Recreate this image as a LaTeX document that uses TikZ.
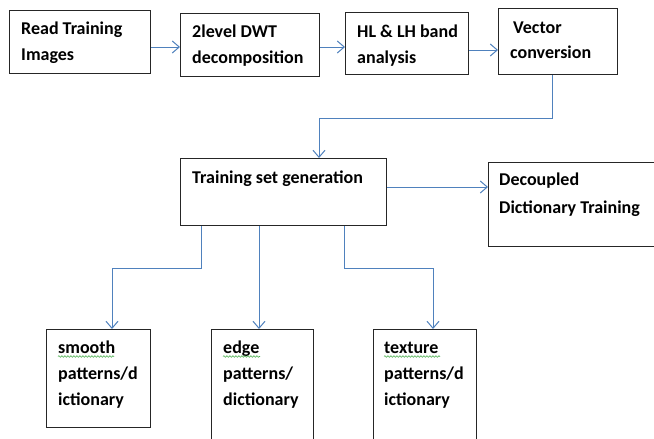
\documentclass[tikz,border=0pt]{standalone}
\usepackage{fontspec}
\setmainfont{Carlito}
\usetikzlibrary{arrows.meta,decorations.pathmorphing}
\definecolor{arrowblue}{HTML}{4F81BD}
\definecolor{spellgreen}{HTML}{4CAF50}
\tikzset{
  box/.style={draw=black!85, line width=1.3pt, anchor=north west, inner sep=0pt},
  lbl/.style={anchor=base west, inner sep=0pt, align=left,
    font=\fontsize{18}{26}\selectfont\bfseries},
  arr/.style={draw=arrowblue, line width=1pt,
    -{Straight Barb[length=7pt,width=12pt,line width=1pt]}},
  squiggle/.style={draw=spellgreen, line width=0.6pt,
    decorate, decoration={snake, amplitude=0.8pt, segment length=3pt}}
}
\begin{document}
\begin{tikzpicture}[x=1pt,y=-1pt]
\useasboundingbox (0,0) rectangle (654,439);
\clip (0,0) rectangle (654,439);
\fill[white] (0,0) rectangle (654,439);
% boxes
\node[box, minimum width=141pt, minimum height=63pt] (b1) at (9,10) {};
\node[box, minimum width=139pt, minimum height=63pt] (b2) at (180,13) {};
\node[box, minimum width=123pt, minimum height=62pt] (b3) at (345,12) {};
\node[box, minimum width=119pt, minimum height=66pt] (b4) at (498,8) {};
\node[box, minimum width=206pt, minimum height=67pt] (b5) at (180,158) {};
\node[box, minimum width=190pt, minimum height=84pt] (b6) at (488,162) {};
\node[box, minimum width=104pt, minimum height=98pt] (s1) at (46,329) {};
\node[box, minimum width=102pt, minimum height=130pt] (s2) at (211,329) {};
\node[box, minimum width=103pt, minimum height=130pt] (s3) at (373,329) {};
% labels (anchored at the baseline of their last line)
\node[lbl] (t1) at (21,60) {Read Training\\Images};
\node[lbl] (t2) at (192,63) {2level DWT\\decomposition};
\node[lbl] (t3) at (357,63) {HL \& LH band\\analysis};
\node[lbl] (t4) at (510,58) {\hspace*{3pt}Vector\\[-1pt]conversion};
\node[lbl] (t5) at (192,183) {Training set generation};
\node[lbl] (t6) at (499,213) {Decoupled\\[2pt]Dictionary Training};
\node[lbl] (t7) at (58,405) {smooth\\patterns/d\\ictionary};
\node[lbl] (t8) at (223,405) {edge\\patterns/\\dictionary};
\node[lbl] (t9) at (384,405) {texture\\patterns/d\\ictionary};
% spell-check squiggles
\draw[squiggle] (58,356.5) -- (114,356.5);
\draw[squiggle] (223,356.5) -- (260,356.5);
\draw[squiggle] (384,356.5) -- (440,356.5);
% connectors
\draw[arr] (b1.east |- 0,47) -- (b2.west |- 0,47);
\draw[arr] (b2.east |- 0,47) -- (b3.west |- 0,47);
\draw[arr] (b3.east |- 0,50) -- (b4.west |- 0,50);
\draw[arr] (b4.south -| 552,0) |- (319,118) -- (b5.north -| 319,0);
\draw[arr] (b5.east |- 0,187) -- (b6.west |- 0,187);
\draw[arr] (b5.south -| 201,0) |- (112,268) -- (s1.north -| 112,0);
\draw[arr] (b5.south -| 259,0) -- (s2.north -| 259,0);
\draw[arr] (b5.south -| 344,0) |- (433,268) -- (s3.north -| 433,0);
\end{tikzpicture}
\end{document}
